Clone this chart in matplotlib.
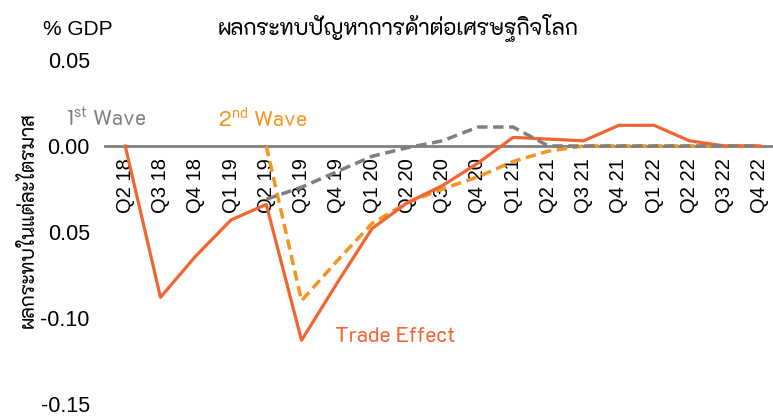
import matplotlib
matplotlib.use("Agg")
import matplotlib.pyplot as plt

quarters = ["Q2 18", "Q3 18", "Q4 18", "Q1 19", "Q2 19", "Q3 19", "Q4 19",
            "Q1 20", "Q2 20", "Q3 20", "Q4 20", "Q1 21", "Q2 21", "Q3 21",
            "Q4 21", "Q1 22", "Q2 22", "Q3 22", "Q4 22"]
trade = [0.000, -0.088, -0.064, -0.043, -0.034, -0.113, -0.080, -0.048,
         -0.033, -0.023, -0.010, 0.005, 0.004, 0.003, 0.012, 0.012, 0.003,
         0.000, 0.000]
wave1 = [None, None, None, None, -0.031, -0.024, -0.015, -0.006, -0.001,
         0.003, 0.011, 0.011, 0.000, 0.000, 0.000, 0.000, 0.000, 0.000, 0.000]
wave2 = [None, None, None, None, 0.000, -0.090, -0.067, -0.045, -0.033,
         -0.025, -0.018, -0.009, -0.003, 0.000, 0.000, 0.000, 0.000, 0.000,
         0.000]
yticks = [-0.15, -0.10, -0.05, 0.00, 0.05]
ytick_labels = ["-0.15", "-0.10", "0.05", "0.00", "0.05"]   # as printed in the source

C = {"trade": "#F26430", "w1": "#7F7F7F", "w2": "#F7941D", "axis": "#808080"}
LAT = ["Liberation Sans", "DejaVu Sans"]
THAI = ["K2D", "Noto Sans Thai", "DejaVu Sans"]
plt.rcParams["font.family"] = LAT
plt.rcParams.update({"mathtext.fontset": "custom", "mathtext.rm": "K2D"})


def nan(v):
    return [float("nan") if a is None else a for a in v]


fig = plt.figure(figsize=(7.73, 4.16), dpi=100)
ax = fig.add_axes([0.136, 0.0207, 0.864, 0.8558])
x = list(range(len(quarters)))

ax.plot(x, nan(wave2), color=C["w2"], lw=2.5, ls=(0, (3, 1.6)), zorder=2)
ax.plot(x, trade, color=C["trade"], lw=2.3, zorder=3)
ax.plot(x, nan(wave1), color=C["w1"], lw=2.5, ls=(0, (3, 1.6)), zorder=4)

ax.set_xlim(-0.57, 18.37)
ax.set_ylim(-0.152, 0.055)
for s in ["top", "right", "left"]:
    ax.spines[s].set_visible(False)
ax.spines["bottom"].set_position(("data", 0))
ax.spines["bottom"].set_color(C["axis"])
ax.spines["bottom"].set_linewidth(2)
ax.spines["bottom"].set_zorder(1)
ax.set_xticks(x)
ax.set_xticklabels(quarters, rotation=90, fontsize=14.5, va="top")
ax.set_yticks(yticks)
ax.set_yticklabels(ytick_labels, fontsize=15.5)
ax.tick_params(axis="x", length=0, pad=8.5)
ax.tick_params(axis="y", length=0, pad=11)

fig.text(0.056, 0.916, "% GDP", fontsize=15, va="baseline")
fig.text(0.282, 0.916, "ผลกระทบปัญหาการค้าต่อเศรษฐกิจโลก", fontsize=16,
         va="baseline", family=THAI)
fig.text(0.037, 0.47, "ผลกระทบในแต่ละไตรมาส", fontsize=14.5, rotation=90,
         ha="center", va="center", family=THAI)
ax.text(-1.67, 0.0114, r"1$^{\rm st}$ Wave", color=C["w1"], fontsize=15,
        va="baseline", family=THAI)
ax.text(2.64, 0.0114, r"2$^{\rm nd}$ Wave", color=C["w2"], fontsize=15,
        va="baseline", family=THAI)
ax.text(5.95, -0.1137, "Trade Effect", color=C["trade"], fontsize=15,
        va="baseline", family=THAI)

fig.savefig("out.png", dpi=100)
